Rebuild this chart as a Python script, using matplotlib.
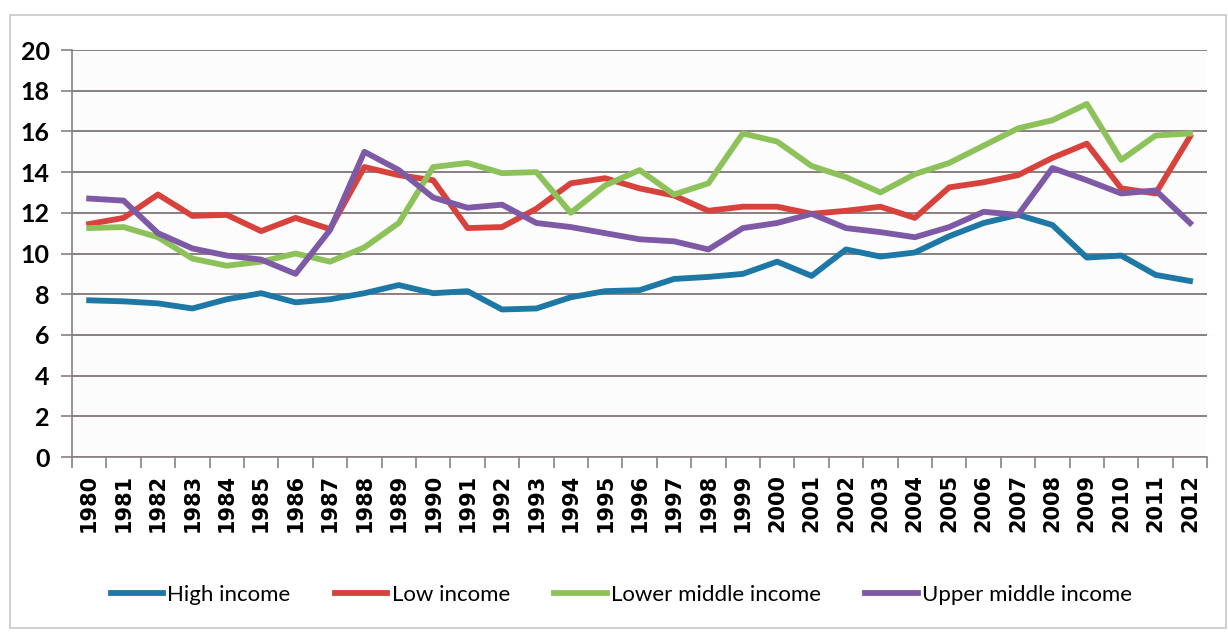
import matplotlib.pyplot as plt
from matplotlib.patches import Rectangle

# data
years = list(range(1980, 2013))
high_income = [7.7, 7.65, 7.55, 7.3, 7.75, 8.05, 7.6, 7.75, 8.05, 8.45, 8.05, 8.15, 7.25, 7.3, 7.85, 8.15,
               8.2, 8.75, 8.85, 9.0, 9.6, 8.9, 10.2, 9.85, 10.05, 10.85, 11.5, 11.9, 11.4, 9.8, 9.9, 8.95, 8.65]
low_income = [11.45, 11.75, 12.9, 11.85, 11.9, 11.1, 11.75, 11.2, 14.25, 13.85, 13.6, 11.25, 11.3, 12.2, 13.45, 13.7,
              13.2, 12.85, 12.1, 12.3, 12.3, 11.95, 12.1, 12.3, 11.75, 13.25, 13.5, 13.85, 14.7, 15.4, 13.2, 12.95, 15.75]
lower_middle = [11.25, 11.3, 10.8, 9.75, 9.4, 9.6, 10.0, 9.6, 10.3, 11.5, 14.25, 14.45, 13.95, 14.0, 12.0, 13.35,
                14.1, 12.9, 13.45, 15.9, 15.5, 14.3, 13.75, 13.0, 13.9, 14.45, 15.3, 16.15, 16.55, 17.35, 14.6, 15.8, 15.9]
upper_middle = [12.7, 12.6, 11.0, 10.25, 9.9, 9.7, 9.0, 11.15, 15.0, 14.1, 12.75, 12.25, 12.4, 11.5, 11.3, 11.0,
                10.7, 10.6, 10.2, 11.25, 11.5, 11.95, 11.25, 11.05, 10.8, 11.3, 12.05, 11.9, 14.2, 13.6, 12.95, 13.1, 11.5]

series = [
    ('High income', high_income, '#1d78a6'),
    ('Low income', low_income, '#d8423c'),
    ('Lower middle income', lower_middle, '#8dc25a'),
    ('Upper middle income', upper_middle, '#7e5aa6'),
]

plt.rcParams['font.family'] = ['Lato', 'DejaVu Sans']

fig = plt.figure(figsize=(12.28, 6.33), dpi=100)
fig.patch.set_facecolor('white')
fig.patches.append(Rectangle((0.008, 0.008), 0.99, 0.968, transform=fig.transFigure,
                             fill=False, edgecolor='#c8c8c8', linewidth=1.2))

ax = fig.add_axes([0.0586, 0.278, 0.9245, 0.643])
ax.set_facecolor('#fcfcfc')

x = list(range(len(years)))
for name, vals, color in series:
    ax.plot(x, vals, color=color, linewidth=4.2, label=name, solid_joinstyle='round')

ax.set_ylim(0, 20)
ax.set_xlim(-0.5, len(years) - 0.5)
ax.set_yticks(range(0, 21, 2))
ax.yaxis.grid(True, color='#8a7f80', linewidth=1.4)
ax.set_axisbelow(True)

ax.set_xticks(x)
ax.set_xticklabels([str(y) for y in years], rotation=90, fontsize=15, fontweight='bold',
                   family=['DejaVu Sans'])
ax.set_xticks([i - 0.5 for i in range(len(years) + 1)], minor=True)
ax.tick_params(axis='x', which='major', length=0, pad=12)
ax.tick_params(axis='x', which='minor', length=8, color='#8a7f80', width=1.2)
ax.tick_params(axis='y', length=8, color='#8a7f80', width=1.2, pad=8, labelsize=18)
for lbl in ax.get_yticklabels():
    lbl.set_fontweight('bold')

for side in ['top', 'right']:
    ax.spines[side].set_visible(False)
for side in ['left', 'bottom']:
    ax.spines[side].set_color('#8a7f80')
    ax.spines[side].set_linewidth(1.2)

fig.legend(loc='center', bbox_to_anchor=(0.506, 0.06), ncol=4, frameon=False,
           fontsize=16, handlelength=2.35, handletextpad=0.2, columnspacing=2.0)

fig.savefig('out.png', dpi=100)
